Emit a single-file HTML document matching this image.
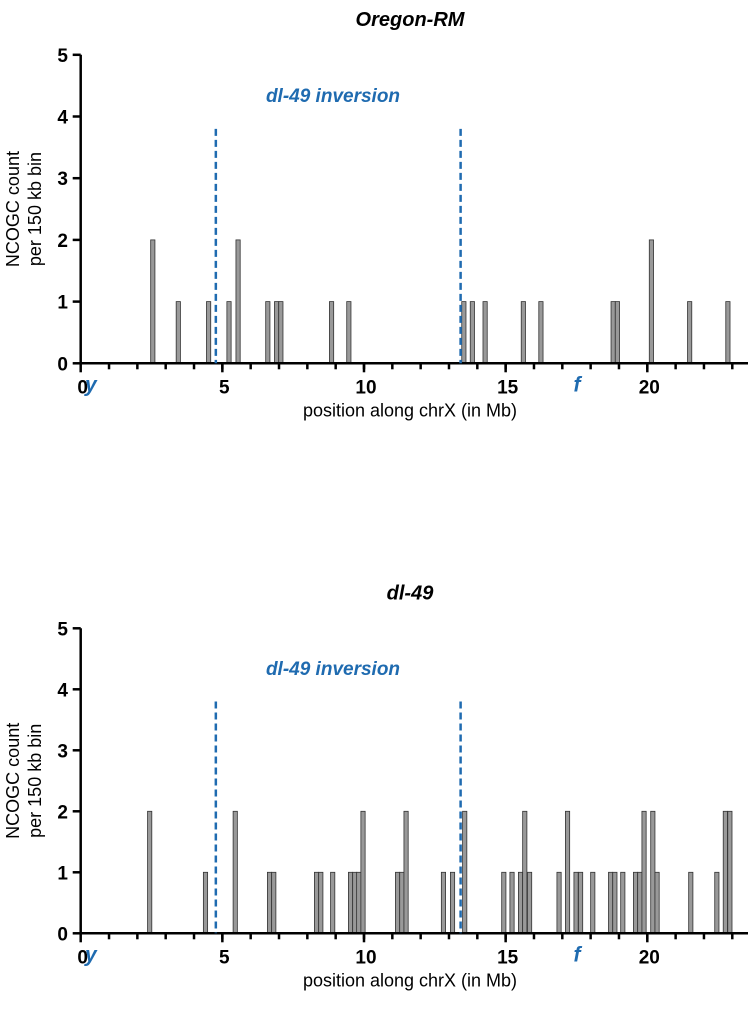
<!DOCTYPE html>
<html><head><meta charset="utf-8"><style>
body{margin:0;background:#fff;}
svg text{font-family:"Liberation Sans",Arial,sans-serif;}
</style></head><body>
<svg id="c" width="750" height="1006" xmlns="http://www.w3.org/2000/svg"></svg>
<script>
const topPos=[2.47,3.37,4.44,5.16,5.48,6.53,6.84,6.99,8.78,9.39,13.45,13.75,14.2,15.55,16.17,18.72,18.87,20.07,21.42,22.77];
const topCnt=[2,1,1,1,2,1,1,1,1,1,1,1,1,1,1,1,1,2,1,1];
const botPos=[2.36,4.33,5.38,6.59,6.74,8.25,8.40,8.82,9.45,9.60,9.74,9.89,11.11,11.26,11.41,12.73,13.05,13.48,14.86,15.15,15.45,15.6,15.77,16.81,17.11,17.41,17.57,18.0,18.63,18.78,19.06,19.51,19.66,19.81,20.12,20.27,21.46,22.38,22.68,22.84];
const botCnt=[2,1,2,1,1,1,1,1,1,1,1,2,1,1,2,1,1,2,1,1,1,2,1,1,2,1,1,1,1,1,1,1,1,2,2,1,1,1,2,2];
const xTicks=[0,5,10,15,20];
const yTicks=[0,1,2,3,4,5];
const inversion=[4.77,13.41];
const binW=0.15;
const NS="http://www.w3.org/2000/svg";
const svg=document.getElementById('c');
function mk(t,a,p){const e=document.createElementNS(NS,t);for(const k in a)e.setAttribute(k,a[k]);(p||svg).appendChild(e);return e;}
function panel(y0,unit,title,pos,cnt,key){
  const g=mk('g',{});
  
  
  const X=v=>80.7+v*28.33, Y=v=>y0-v*unit;
  let t=mk('text',{x:410,y:Y(5)-29,'text-anchor':'middle','font-size':20,'font-weight':'bold','font-style':'italic'},g);t.textContent=title;
  
  pos.forEach((p,i)=>{const r=mk('rect',{x:X(p),y:Y(cnt[i]),width:binW*28.33,height:cnt[i]*unit,fill:'#999','stroke':'#333','stroke-width':0.8},g);
    });
  const ya=mk('line',{x1:X(0),y1:Y(5),x2:X(0),y2:y0,stroke:'#000','stroke-width':2.5},g);
  
  const xa=mk('line',{x1:X(0)-1,y1:y0,x2:748,y2:y0,stroke:'#000','stroke-width':2.5},g);
  
  yTicks.forEach(v=>{mk('line',{x1:X(0)-8,y1:Y(v),x2:X(0),y2:Y(v),stroke:'#000','stroke-width':2.5},g);
    const l=mk('text',{x:68,y:Y(v)+7,'text-anchor':'end','font-size':19,'font-weight':'bold'},g);l.textContent=v;
    });
  for(let m=1;m<=23;m++){mk('line',{x1:X(m),y1:y0,x2:X(m),y2:y0+6,stroke:'#000','stroke-width':2.5},g);}
  xTicks.forEach(v=>{mk('line',{x1:X(v),y1:y0,x2:X(v),y2:y0+9,stroke:'#000','stroke-width':2.5},g);
    const l=mk('text',{x:X(v)+2,y:y0+30,'text-anchor':'middle','font-size':19,'font-weight':'bold'},g);l.textContent=v;
    });
  let gy=mk('text',{x:85,y:y0+28,'font-size':21,'font-weight':'bold','font-style':'italic',fill:'#1f6bb0'},g);gy.textContent='y';
  
  let gf=mk('text',{x:X(17.5)-3,y:y0+28,'font-size':21,'font-weight':'bold','font-style':'italic',fill:'#1f6bb0'},g);gf.textContent='f';
  
  inversion.forEach(v=>{const d=mk('line',{x1:X(v),y1:Y(3.8),x2:X(v),y2:y0,stroke:'#1f6bb0','stroke-width':2.5,'stroke-dasharray':'7,4'},g);
    });
  let iv=mk('text',{x:333,y:Y(4.35)+7,'text-anchor':'middle','font-size':19,'font-weight':'bold','font-style':'italic',fill:'#1f6bb0'},g);iv.textContent='dl-49 inversion';
  
  let xl=mk('text',{x:410,y:y0+53,'text-anchor':'middle','font-size':18},g);xl.textContent='position along chrX (in Mb)';
  
  const yl=mk('text',{transform:`translate(21,${Y(2.5)}) rotate(-90)`,'text-anchor':'middle','font-size':18},g);
  
  const t1=mk('tspan',{x:0,dy:-2},yl);t1.textContent='NCOGC count';
  const t2=mk('tspan',{x:0,dy:22},yl);t2.textContent='per 150 kb bin';
}
panel(363.3,61.7,'Oregon-RM',topPos,topCnt,'oregon');
panel(933.3,61,'dl-49',botPos,botCnt,'dl49');
</script>
</body></html>
